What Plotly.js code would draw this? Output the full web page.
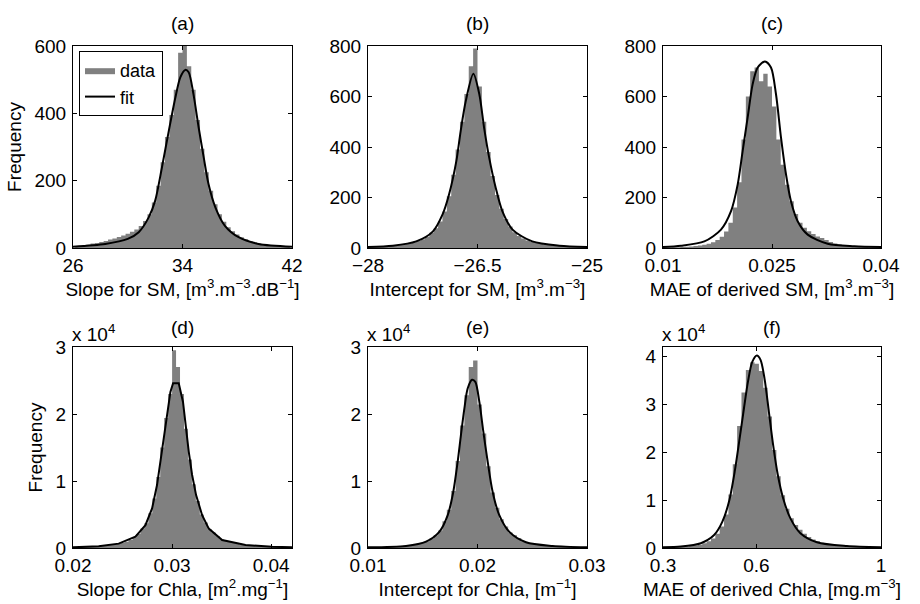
<!DOCTYPE html>
<html>
<head>
<meta charset="utf-8">
<script src="https://cdn.plot.ly/plotly-3.0.1.min.js"></script>
<style>html,body{margin:0;padding:0;background:#fff;}#chart{width:920px;height:604px;}</style>
</head>
<body>
<div id="chart"></div>
<script>
// ---------------- data ----------------
// (a) Slope for SM
const aBins = [26.16,26.48,26.80,27.12,27.44,27.76,28.08,28.40,28.72,29.04,29.36,29.68,30.00,30.32,30.64,30.96,31.28,31.60,31.92,32.24,32.56,32.88,33.20,33.52,33.84,34.16,34.48,34.80,35.12,35.44,35.76,36.08,36.40,36.72,37.04,37.36,37.68,38.00,38.32,38.64,38.96,39.28,39.60,39.92,40.24,40.56,40.88,41.20,41.52,41.84];
const aCounts = [5,6,8,10,13,15,18,21,25,28,33,37,42,48,55,65,80,100,135,185,255,330,395,470,580,640,540,470,380,295,225,170,130,100,78,62,50,40,32,26,21,17,14,11,9,8,6,5,4,4];
const aFitX = [26,28.36,30,30.8,31.53,32.0,32.5,33.0,33.48,33.84,34.2,34.45,34.8,35.18,35.55,35.9,36.4,37.1,38.1,39.56,42];
const aFitY = [4,12,27,47,91,140,240,348,447,507,529,522,457,358,269,190,121,66,32,12,4];

// (b) Intercept for SM
const bBins = [-27.97,-27.91,-27.85,-27.79,-27.73,-27.67,-27.61,-27.55,-27.49,-27.43,-27.37,-27.31,-27.25,-27.19,-27.13,-27.07,-27.01,-26.95,-26.89,-26.83,-26.77,-26.71,-26.65,-26.59,-26.53,-26.47,-26.41,-26.35,-26.29,-26.23,-26.17,-26.11,-26.05,-25.99,-25.93,-25.87,-25.81,-25.75,-25.69,-25.63,-25.57,-25.51,-25.45,-25.39,-25.33,-25.27,-25.21,-25.15,-25.09,-25.03];
const bCounts = [4,5,6,7,8,10,12,14,16,19,23,28,35,45,60,78,105,145,205,290,390,500,610,720,790,640,500,380,285,210,155,115,85,62,48,38,30,25,20,17,14,12,10,9,8,7,6,5,4,4];
const bFitX = [-28,-27.66,-27.34,-27.11,-26.98,-26.89,-26.79,-26.73,-26.66,-26.557,-26.475,-26.41,-26.34,-26.25,-26.16,-26.02,-25.75,-25.38,-25];
const bFitY = [4,9,26,66,132,212,344,464,583,690,609,477,358,238,146,73,26,9,4];

// (c) MAE of derived SM
const cBins = [0.0103,0.0109,0.0115,0.0121,0.0127,0.0133,0.0139,0.0145,0.0151,0.0157,0.0163,0.0169,0.0175,0.0181,0.0187,0.0193,0.0199,0.0205,0.0211,0.0217,0.0223,0.0229,0.0235,0.0241,0.0247,0.0253,0.0259,0.0265,0.0271,0.0277,0.0283,0.0289,0.0295,0.0301,0.0307,0.0313,0.0319,0.0325,0.0331,0.0337,0.0343,0.0349,0.0355,0.0361,0.0367,0.0373,0.0379,0.0385,0.0391,0.0397];
const cCounts = [2,2,3,3,4,5,6,8,10,13,17,23,32,45,65,100,160,260,430,600,700,715,660,690,640,560,430,330,250,185,135,100,80,66,55,46,40,32,24,18,14,11,9,7,6,5,4,3,3,2];
const cFitX = [0.01,0.01248,0.01569,0.01798,0.01936,0.02028,0.02096,0.02165,0.02234,0.02303,0.02404,0.02486,0.02555,0.02624,0.02693,0.02761,0.02853,0.02991,0.03266,0.03633,0.04];
const cFitY = [4,9,26,73,146,252,384,517,649,715,739,715,609,437,291,185,106,53,17,7,4];

// (d) Slope for Chla
const dBins = [0.0202,0.0206,0.0210,0.0214,0.0218,0.0222,0.0226,0.0230,0.0234,0.0238,0.0242,0.0246,0.0250,0.0254,0.0258,0.0262,0.0266,0.0270,0.0274,0.0278,0.0282,0.0286,0.0290,0.0294,0.0298,0.0302,0.0306,0.0310,0.0314,0.0318,0.0322,0.0326,0.0330,0.0334,0.0338,0.0342,0.0346,0.0350,0.0354,0.0358,0.0362,0.0366,0.0370,0.0374,0.0378,0.0382,0.0386,0.0390,0.0394,0.0398,0.0402,0.0406,0.0410,0.0414,0.0418];
const dCounts = [100,120,150,180,200,230,260,300,380,450,550,650,800,950,1200,1600,2100,2900,3700,5200,7400,10600,15000,19400,23000,29500,27000,23000,17800,13200,9500,7000,5000,3800,2800,2300,1800,1300,1100,900,750,600,500,450,400,350,300,280,250,220,200,180,160,140,120];
const dFitX = [0.0200,0.02259,0.02461,0.0263,0.02731,0.02798,0.02848,0.02882,0.02916,0.02949,0.02983,0.0301,0.03067,0.0311,0.03135,0.03168,0.03202,0.03242,0.03303,0.0337,0.03505,0.03741,0.0401,0.0421];
const dFitY = [100,250,650,1700,3400,5900,9400,12900,16900,20300,23300,24600,24600,21800,18400,14400,10900,7900,4900,2900,1200,450,200,100];

// (e) Intercept for Chla
const eBins = [0.0102,0.0106,0.0110,0.0114,0.0118,0.0122,0.0126,0.0130,0.0134,0.0138,0.0142,0.0146,0.0150,0.0154,0.0158,0.0162,0.0166,0.0170,0.0174,0.0178,0.0182,0.0186,0.0190,0.0194,0.0198,0.0202,0.0206,0.0210,0.0214,0.0218,0.0222,0.0226,0.0230,0.0234,0.0238,0.0242,0.0246,0.0250,0.0254,0.0258,0.0262,0.0266,0.0270,0.0274,0.0278,0.0282,0.0286,0.0290,0.0294,0.0298];
const eCounts = [100,120,140,160,190,220,250,280,320,400,500,650,800,1000,1400,1900,2600,4000,5700,8500,13000,18300,22800,27000,28000,21400,17100,12200,8300,6000,4300,3200,2300,1900,1500,1000,800,650,550,450,380,320,280,250,220,190,160,140,120,100];
const eFitX = [0.0100,0.01347,0.0153,0.01651,0.01728,0.01779,0.01819,0.01849,0.0188,0.0191,0.0195,0.0198,0.02017,0.02053,0.02093,0.02138,0.02199,0.02291,0.02443,0.02686,0.0300];
const eFitY = [100,300,950,2400,4900,8400,12900,16900,20800,23800,25100,24800,21800,17400,12900,8400,4900,2400,850,300,100];

// (f) MAE of derived Chla
const fBins = [0.307,0.321,0.335,0.349,0.363,0.377,0.391,0.405,0.419,0.433,0.447,0.461,0.475,0.489,0.503,0.517,0.531,0.545,0.559,0.573,0.587,0.601,0.615,0.629,0.643,0.657,0.671,0.685,0.699,0.713,0.727,0.741,0.755,0.769,0.783,0.797,0.811,0.825,0.839,0.853,0.867,0.881,0.895,0.909,0.923,0.937,0.951,0.965,0.979,0.993];
const fCounts = [100,120,150,200,250,300,400,500,700,1000,1400,2000,3000,4500,7000,11200,17500,25500,32500,37200,38800,38500,37000,33500,27500,20500,15000,11000,8200,6200,4800,3800,3000,2300,1800,1400,1100,900,700,600,500,400,350,300,250,200,180,150,130,110];
const fFitX = [0.30,0.3575,0.4215,0.4641,0.4907,0.512,0.5301,0.5461,0.56,0.5727,0.5866,0.6015,0.6132,0.626,0.6399,0.6537,0.6686,0.6857,0.7091,0.7411,0.7944,0.8903,1.0];
const fFitY = [140,300,1000,2700,5500,9700,15900,22900,29200,34700,38900,40200,39300,35400,28500,21500,15300,10400,6200,3100,1200,400,140];

// tick labels
const xTickVals = [[26,34,42],[-28,-26.5,-25],[0.01,0.025,0.04],[0.02,0.03,0.04],[0.01,0.02,0.03],[0.3,0.6,1]];
const xTickText = [['26','34','42'],['\u221228','\u221226.5','\u221225'],['0.01','0.025','0.04'],['0.02','0.03','0.04'],['0.01','0.02','0.03'],['0.3','0.6','1']];
const yTickVals = [[0,200,400,600],[0,200,400,600,800],[0,200,400,600,800],[0,10000,20000,30000],[0,10000,20000,30000],[0,10000,20000,30000,40000]];
const yTickText = [['0','200','400','600'],['0','200','400','600','800'],['0','200','400','600','800'],['0','1','2','3'],['0','1','2','3'],['0','1','2','3','4']];
const panelLabels = ['(a)','(b)','(c)','(d)','(e)','(f)'];
const xTitles = [
  'Slope for SM, [m<sup>3</sup>.m<sup>\u22123</sup>.dB<sup>\u22121</sup>]',
  'Intercept for SM, [m<sup>3</sup>.m<sup>\u22123</sup>]',
  'MAE of derived SM, [m<sup>3</sup>.m<sup>\u22123</sup>]',
  'Slope for Chla, [m<sup>2</sup>.mg<sup>\u22121</sup>]',
  'Intercept for Chla, [m<sup>\u22121</sup>]',
  'MAE of derived Chla, [mg.m<sup>\u22123</sup>]'
];
const yTitle = 'Frequency';
const scaleLabel = 'x 10<sup>4</sup>';
const seriesNames = ['data','fit'];

// ---------------- layout / drawing ----------------
const bins = [aBins,bBins,cBins,dBins,eBins,fBins];
const counts = [aCounts,bCounts,cCounts,dCounts,eCounts,fCounts];
const fitX = [aFitX,bFitX,cFitX,dFitX,eFitX,fFitX];
const fitY = [aFitY,bFitY,cFitY,dFitY,eFitY,fFitY];
const xRanges = [[26,42],[-28,-25],[0.01,0.04],[0.02,0.0421],[0.01,0.03],[0.3,1]];
const yRanges = [[0,600],[0,800],[0,800],[0,30000],[0,30000],[0,42000]];

const W = 920, H = 604;
const colPx = [[73,292],[368,587],[663,881]];
const rowPx = [[46,248],[347,548]];
const FONT = 'Liberation Sans, Arial, Helvetica, sans-serif';
const FS = 19;

const traces = [];
const layout = {
  width: W, height: H,
  margin: {l:0, r:0, t:0, b:0},
  paper_bgcolor: '#fff', plot_bgcolor: '#fff',
  font: {family: FONT, size: FS, color: '#000'},
  showlegend: true,
  legend: {x: 79/W, y: 1-51/H, xanchor: 'left', yanchor: 'top', bordercolor: '#000', borderwidth: 1,
           bgcolor: '#fff', font: {size: 18}, tracegroupgap: 0, itemwidth: 30},
  annotations: []
};

for (let i = 0; i < 6; i++) {
  const n = i + 1;
  const col = i % 3, row = Math.floor(i / 3);
  const xa = 'xaxis' + (n === 1 ? '' : n), ya = 'yaxis' + (n === 1 ? '' : n);
  const xr = 'x' + (n === 1 ? '' : n), yr = 'y' + (n === 1 ? '' : n);
  // histogram drawn as a stepped filled area (one step per bin)
  traces.push({type: 'scatter', mode: 'lines', x: bins[i], y: counts[i], xaxis: xr, yaxis: yr,
    name: seriesNames[0], showlegend: i === 0, legendgroup: 'data',
    line: {shape: 'hvh', width: 0, color: '#808080'}, fill: 'tozeroy', fillcolor: '#808080'});
  traces.push({type: 'scatter', mode: 'lines', x: fitX[i], y: fitY[i], xaxis: xr, yaxis: yr,
    name: seriesNames[1], showlegend: i === 0, legendgroup: 'fit',
    line: {color: '#000', width: 2, shape: i === 3 ? 'linear' : 'spline', smoothing: 0.8}});
  const common = {showline: true, linecolor: '#000', linewidth: 1, mirror: 'ticks', ticks: 'inside',
    ticklen: 4, tickcolor: '#000', tickwidth: 1, showgrid: false, zeroline: false,
    tickfont: {size: FS, family: FONT}, fixedrange: true, automargin: false};
  layout[xa] = Object.assign({}, common, {
    domain: [colPx[col][0]/W, colPx[col][1]/W], range: xRanges[i], anchor: yr,
    tickmode: 'array', tickvals: xTickVals[i], ticktext: xTickText[i], ticklabelstandoff: 0,
    title: {text: xTitles[i], font: {size: FS}, standoff: 5}
  });
  const yax = Object.assign({}, common, {
    domain: [1-rowPx[row][1]/H, 1-rowPx[row][0]/H], range: yRanges[i], anchor: xr,
    tickmode: 'array', tickvals: yTickVals[i], ticktext: yTickText[i], ticklabelstandoff: 2
  });
  if (col === 0) yax.title = {text: yTitle, font: {size: FS}, standoff: 7};
  layout[ya] = yax;
  layout.annotations.push({text: panelLabels[i], xref: 'paper', yref: 'paper',
    x: (colPx[col][0]+colPx[col][1])/2/W, y: 1-(row === 0 ? 24 : 327)/H,
    xanchor: 'center', yanchor: 'middle', showarrow: false, font: {size: FS}});
  if (row === 1) {
    layout.annotations.push({text: scaleLabel, xref: 'paper', yref: 'paper',
      x: (colPx[col][0]-2)/W, y: 1-(rowPx[row][0]-1)/H, xanchor: 'left', yanchor: 'bottom',
      showarrow: false, font: {size: FS}, borderpad: 0});
  }
}

Plotly.newPlot('chart', traces, layout, {staticPlot: true, displayModeBar: false});
</script>
</body>
</html>
